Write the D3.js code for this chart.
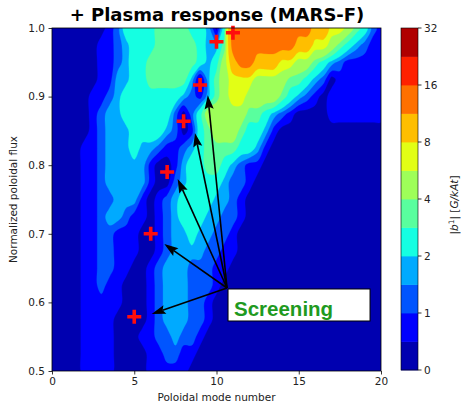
<!DOCTYPE html>
<html><head><meta charset="utf-8">
<script src="https://cdn.jsdelivr.net/npm/d3@7"></script>
<style>body{margin:0;background:#fff}svg{display:block}</style>
</head><body>
<svg id="chart" width="461" height="405"></svg>
<script>
// ---------------- data ----------------
const title = "+ Plasma response (MARS-F)";
const xLabel = "Poloidal mode number";
const yLabel = "Normalized poloidal flux";
const xTicks = [0, 5, 10, 15, 20];
const yTicks = [0.5, 0.6, 0.7, 0.8, 0.9, 1.0];
const levels = [0, 0.5, 1, 1.5, 2, 3, 4, 6, 8, 12, 16, 24, 32];
const cbTicks = [0, 1, 2, 4, 8, 16, 32];
const levelColors = ["#0000b0","#0000ff","#0055ff","#00aaff","#15ffe2","#59ff9e",
                     "#9eff59","#e2ff15","#ffbe00","#ff7000","#ff2100","#b00000"];
// grid: poloidal mode number 0..20 step 0.5 (41 columns), flux 0.5..1.0 step 0.025 (21 rows)
const modeGrid = d3.range(0, 20.001, 0.5);
const fluxGrid = d3.range(0.5, 1.0001, 0.025);
// |b1| [G/kAt], one row per flux value (bottom to top)
const b1 = [
[.25,.25,.25,.25,.75,.75,.75,.75,.25,.25, .25,.25,.75,.75,.75,.75,.75,.25,.25,.25, .25,.25,.25,.25,.25,.25,.25,.25,.25,.25, .25,.25,.25,.25,.25,.25,.25,.25,.25,.25, .25],
[.25,.25,.25,.25,.75,.75,.75,.75,.25,.25, .25,.25,.75,.75,1.25,1.25,.75,.75,.25,.25, .25,.25,.25,.25,.25,.25,.25,.25,.25,.25, .25,.25,.25,.25,.25,.25,.25,.25,.25,.25, .25],
[.25,.25,.25,.25,.75,.75,.75,.75,.25,.25, .25,.75,.75,1.25,1.25,1.75,1.25,1.25,.75,.25, .25,.25,.25,.25,.25,.25,.25,.25,.25,.25, .25,.25,.25,.25,.25,.25,.25,.25,.25,.25, .25],
[.25,.25,.25,.25,.75,.75,.75,.75,.25,.25, .25,.25,.75,1.25,1.75,1.75,1.75,1.25,1.25,.75, .25,.25,.25,.25,.25,.25,.25,.25,.25,.25, .25,.25,.25,.25,.25,.25,.25,.25,.25,.25, .25],
[.25,.25,.25,.25,.75,.75,.75,.75,.75,.25, .25,.25,.75,1.25,1.75,1.75,1.75,1.25,1.25,.75, .25,.25,.25,.25,.25,.25,.25,.25,.25,.25, .25,.25,.25,.25,.25,.25,.25,.25,.25,.25, .25],
[.25,.25,.25,.25,.75,.75,1.25,.75,.75,.25, .25,.25,.75,1.25,1.75,1.75,1.75,1.25,1.25,1.25, .75,.25,.25,.25,.25,.25,.25,.25,.25,.25, .25,.25,.25,.25,.25,.25,.25,.25,.25,.25, .25],
[.25,.25,.25,.25,.75,.75,1.25,1.25,.75,.75, .25,.25,.75,1.25,1.75,1.75,1.75,1.25,1.25,1.25, .75,.75,.25,.25,.25,.25,.25,.25,.25,.25, .25,.25,.25,.25,.25,.25,.25,.25,.25,.25, .25],
[.25,.25,.25,.25,.75,.75,1.25,1.25,.75,.75, .75,.25,.25,.75,1.25,1.75,1.75,1.75,1.75,1.25, 1.25,.75,.75,.25,.25,.25,.25,.25,.25,.25, .25,.25,.25,.25,.25,.25,.25,.25,.25,.25, .25],
[.25,.25,.25,.25,.75,.75,1.25,1.25,.75,.75, .75,.25,.25,.75,1.25,1.75,1.75,2.5,1.75,1.75, 1.25,1.25,.75,.25,.25,.25,.25,.25,.25,.25, .25,.25,.25,.25,.25,.25,.25,.25,.25,.25, .25],
[.25,.25,.25,.25,.75,.75,1.25,1.75,1.75,1.25, .75,.75,.25,.75,1.25,1.75,2.5,2.5,2.5,1.75, 1.75,1.25,1.25,.75,.25,.25,.25,.25,.25,.25, .25,.25,.25,.25,.25,.25,.25,.25,.25,.25, .25],
[.25,.25,.25,.25,.75,.75,1.25,1.25,1.75,1.75, 1.75,.75,.25,.75,1.25,1.75,2.5,2.5,2.5,2.5, 1.75,1.75,1.25,.75,.25,.25,.25,.25,.25,.25, .25,.25,.25,.25,.25,.25,.25,.25,.25,.25, .25],
[.25,.25,.25,.25,.75,.75,1.25,1.75,1.75,1.75, 1.75,1.75,.75,.25,.25,1.25,1.75,2.5,2.5,2.5, 2.5,1.75,1.25,1.25,.75,.25,.25,.25,.25,.25, .25,.25,.25,.25,.25,.25,.25,.25,.25,.25, .25],
[.25,.25,.25,.25,.75,.75,1.25,1.75,1.75,1.75, 1.75,1.75,.75,.25,.25,.75,1.75,2.5,2.5,3.5, 3.5,2.5,1.75,1.25,.75,.75,.25,.25,.25,.25, .25,.25,.25,.25,.25,.25,.25,.25,.25,.25, .25],
[.25,.25,.25,.25,.75,.75,1.25,1.75,1.75,1.75, 2.5,1.75,1.75,1.25,.75,.75,1.25,1.75,2.5,3.5, 3.5,3.5,3.5,2.5,2.5,1.75,.75,.25,.25,.25, .25,.25,.25,.25,.25,.25,.25,.25,.25,.25, .25],
[.25,.25,.25,.25,.25,.75,1.25,1.75,1.75,1.75, 2.5,2.5,2.5,2.5,1.75,1.25,.25,.75,2.5,3.5, 5,5,5,3.5,2.5,2.5,1.75,.75,.25,.25, .25,.25,.25,.25,.25,.25,.25,.25,.25,.25, .25],
[.25,.25,.25,.25,.25,.75,1.25,1.75,1.75,2.5, 2.5,2.5,2.5,2.5,2.5,1.25,.25,1.25,2.5,5, 5,5,5,5,3.5,3.5,2.5,1.75,1.25,.75, .25,.25,.25,.25,.75,.75,.75,.75,.75,.75, .75],
[.25,.25,.25,.25,.25,.75,.75,1.25,1.75,2.5, 2.5,2.5,2.5,2.5,2.5,2.5,1.75,1.25,.75,1.75, 3.5,5,7,7,5,5,5,5,3.5,2.5, 1.75,1.25,.75,.25,.75,.75,.75,.75,.75,.75, .75],
[.25,.25,.25,.25,.25,.25,.75,.75,1.75,1.75, 2.5,2.5,3.5,3.5,3.5,3.5,3.5,1.75,.25,1.75, 3.5,5,7,7,7,5,5,5,5,3.5, 3.5,2.5,1.75,1.25,.25,.75,.75,.75,.75,.75, .75],
[.25,.25,.25,.25,.25,.25,.75,.75,1.25,1.75, 2.5,2.5,3.5,3.5,3.5,3.5,3.5,3.5,2.5,1.75, 2.5,5,10,14,14,10,10,10,7,7, 5,5,3.5,2.5,1.75,1.25,.75,.75,.75,.75, .75],
[.25,.25,.25,.25,.25,.25,.75,.75,1.25,1.75, 2.5,2.5,2.5,3.5,3.5,3.5,3.5,3.5,2.5,1.75, 1.75,3.5,14,14,14,14,14,14,14,14, 10,10,7,7,5,3.5,2.5,1.75,1.25,.75, .75],
[.25,.25,.25,.25,.25,.25,.25,.75,1.25,2.5, 2.5,2.5,2.5,3.5,3.5,3.5,3.5,2.5,2.5,1.75, .25,2.5,14,14,14,14,14,14,14,14, 14,14,10,10,7,7,5,3.5,2.5,1.25, .75]
];
// resonant surfaces (red crosses)
const resM = [5, 6, 7, 8, 9, 10, 11];
const resPsi = [0.579, 0.700, 0.790, 0.864, 0.917, 0.980, 0.993];
// arrow tips (mode number, flux) and common origin
const arrowTipM = [6.06, 6.83, 7.64, 8.69, 9.47];
const arrowTipPsi = [0.583, 0.685, 0.780, 0.847, 0.902];
const arrowOrigin = [10.64, 0.621];
const noteText = "Screening";

// ---------------- drawing ----------------
const svg = d3.select("#chart");
const W = {l: 52, r: 381, t: 28, b: 371};
const x = d3.scaleLinear().domain([0, 20]).range([W.l, W.r]);
const y = d3.scaleLinear().domain([0.5, 1.0]).range([W.b, W.t]);
const FONT = "DejaVu Sans, Verdana, sans-serif";

svg.append("defs").append("clipPath").attr("id", "plotclip")
  .append("rect").attr("x", W.l).attr("y", W.t).attr("width", W.r - W.l).attr("height", W.b - W.t);

const nx = modeGrid.length, ny = fluxGrid.length;
const dm = modeGrid[1] - modeGrid[0], dp = fluxGrid[1] - fluxGrid[0];
const flat = b1.flat();
const contours = d3.contours().size([nx, ny]).thresholds(levels.slice(0, -1))(flat);
const gx2px = gx => x(modeGrid[0] + (gx - 0.5) * dm);
const gy2px = gy => y(fluxGrid[0] + (gy - 0.5) * dp);
const smooth = d3.line().curve(d3.curveCatmullRomClosed.alpha(0.5));
const ringPath = ring => smooth(ring.slice(0, -1).map(([gx, gy]) => [gx2px(gx), gy2px(gy)]));
const gC = svg.append("g").attr("clip-path", "url(#plotclip)");
gC.selectAll("path").data(contours).join("path")
  .attr("d", c => c.coordinates.map(poly => poly.map(ringPath).join("")).join(""))
  .attr("fill", (d, i) => levelColors[i])
  .attr("stroke", (d, i) => levelColors[i]).attr("stroke-width", 0.3);

// crosses
svg.append("g").selectAll("path").data(resM).join("path")
  .attr("d", (m, i) => {
    const cx = x(m), cy = y(resPsi[i]);
    return `M${cx - 7},${cy}H${cx + 7}M${cx},${cy - 7}V${cy + 7}`;
  })
  .attr("stroke", "#ff0d0d").attr("stroke-width", 3.6).attr("fill", "none");

// arrows
const ox = x(arrowOrigin[0]), oy = y(arrowOrigin[1]);
const gA = svg.append("g");
arrowTipM.forEach((m, i) => {
  const tx = x(m), ty = y(arrowTipPsi[i]);
  const ang = Math.atan2(ty - oy, tx - ox);
  const L = 14, Hw = 4.6, notch = 2.5;
  const ux = Math.cos(ang), uy = Math.sin(ang);
  const bx = tx - ux * L, by = ty - uy * L;
  gA.append("line").attr("x1", ox).attr("y1", oy)
    .attr("x2", tx - ux * (L - notch)).attr("y2", ty - uy * (L - notch))
    .attr("stroke", "#000").attr("stroke-width", 1.6);
  const pts = [[tx, ty], [bx - uy * Hw, by + ux * Hw], [tx - ux * (L - notch), ty - uy * (L - notch)], [bx + uy * Hw, by - ux * Hw]];
  gA.append("path").attr("d", "M" + pts.map(p => p.join(",")).join("L") + "Z").attr("fill", "#000");
});

// annotation box
svg.append("rect").attr("x", ox + 1).attr("y", oy + 1).attr("width", 142).attr("height", 32)
  .attr("fill", "#fff").attr("stroke", "#000").attr("stroke-width", 1);
svg.append("text").attr("x", ox + 7).attr("y", oy + 28)
  .attr("font-family", "Liberation Sans, Arial, sans-serif").attr("font-weight", "bold")
  .attr("font-size", 20.5).attr("fill", "#1f9a1f").text(noteText);

// axes
const xAxis = svg.append("g").attr("transform", `translate(0,${W.b})`)
  .call(d3.axisBottom(x).tickValues(xTicks).tickSize(3.5).tickPadding(3.5).tickFormat(d3.format("d")));
const yAxis = svg.append("g").attr("transform", `translate(${W.l},0)`)
  .call(d3.axisLeft(y).tickValues(yTicks).tickSize(3.5).tickPadding(3.5).tickFormat(d3.format(".1f")));
[xAxis, yAxis].forEach(g => {
  g.select(".domain").remove();
  g.selectAll("line").attr("stroke", "#000").attr("stroke-width", 0.8);
  g.selectAll("text").attr("font-family", FONT).attr("font-size", 10.5).attr("fill", "#222");
});
svg.append("rect").attr("x", W.l).attr("y", W.t).attr("width", W.r - W.l).attr("height", W.b - W.t)
  .attr("fill", "none").attr("stroke", "#000").attr("stroke-width", 0.8);

svg.append("text").attr("x", (W.l + W.r) / 2).attr("y", 401).attr("text-anchor", "middle")
  .attr("font-family", FONT).attr("font-size", 10.5).attr("fill", "#222").text(xLabel);
svg.append("text").attr("transform", `translate(17,${(W.t + W.b) / 2}) rotate(-90)`).attr("text-anchor", "middle")
  .attr("font-family", FONT).attr("font-size", 10.5).attr("fill", "#222").text(yLabel);
svg.append("text").attr("x", 217).attr("y", 21).attr("text-anchor", "middle")
  .attr("font-family", FONT).attr("font-weight", "bold").attr("font-size", 18).attr("fill", "#000").text(title);

// colorbar
const cb = {x: 401, w: 17};
const cbY = d3.scaleLinear().domain([0, levelColors.length]).range([W.b - 1, W.t]);
const gCb = svg.append("g");
gCb.selectAll("rect").data(levelColors).join("rect")
  .attr("x", cb.x).attr("width", cb.w)
  .attr("y", (c, i) => cbY(i + 1)).attr("height", (c, i) => cbY(i) - cbY(i + 1) + 0.4)
  .attr("fill", c => c);
gCb.append("rect").attr("x", cb.x).attr("y", cbY(levelColors.length)).attr("width", cb.w)
  .attr("height", cbY(0) - cbY(levelColors.length)).attr("fill", "none").attr("stroke", "#000").attr("stroke-width", 0.6);
cbTicks.forEach(v => {
  const k = levels.indexOf(v);
  const ty = cbY(k);
  gCb.append("line").attr("x1", cb.x + cb.w).attr("x2", cb.x + cb.w + 3.5).attr("y1", ty).attr("y2", ty)
    .attr("stroke", "#000").attr("stroke-width", 0.8);
  gCb.append("text").attr("x", cb.x + cb.w + 6).attr("y", ty).attr("dy", "0.35em")
    .attr("font-family", FONT).attr("font-size", 10.5).attr("fill", "#222").text(v);
});
const cbl = svg.append("text").attr("transform", `translate(458,205) rotate(-90)`).attr("text-anchor", "middle")
  .attr("font-family", FONT).attr("font-size", 10.5).attr("fill", "#222");
cbl.append("tspan").text("|");
cbl.append("tspan").attr("font-style", "italic").text("b");
cbl.append("tspan").attr("font-size", 7.5).attr("dy", -4).text("1");
cbl.append("tspan").attr("dy", 4).text("| [");
cbl.append("tspan").attr("font-style", "italic").text("G/kAt");
cbl.append("tspan").text("]");
</script>
</body></html>
